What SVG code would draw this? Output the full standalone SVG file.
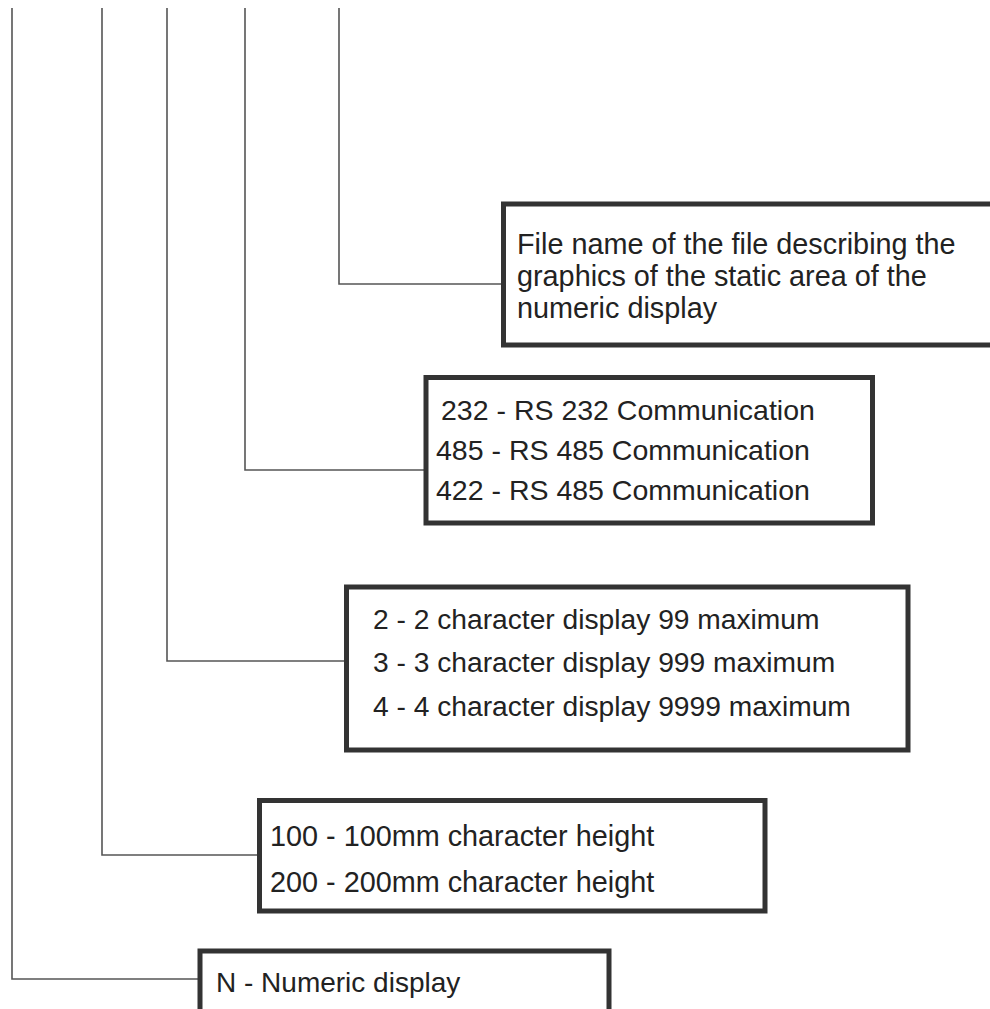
<svg xmlns="http://www.w3.org/2000/svg" width="990" height="1009" viewBox="0 0 990 1009">
<style>
.box{fill:#fff;stroke:#333;stroke-width:5}
.conn{fill:none;stroke:#555;stroke-width:1.6}
text{font-family:"Liberation Sans",Arial,sans-serif;font-size:28.5px;fill:#222}
.t1{font-size:28.8px}
.t3{font-size:28.2px}
.t4{font-size:28.8px}
.t5{font-size:28px}
</style>
<rect width="990" height="1009" fill="#fff"/>
<g id="connectors">
<polyline class="conn" points="12,8 12,979 200,979"/>
<polyline class="conn" points="102,8 102,855 259,855"/>
<polyline class="conn" points="167,8 167,661 346,661"/>
<polyline class="conn" points="245,8 245,470 426,470"/>
<polyline class="conn" points="339,8 339,284 503,284"/>
</g>
<g id="node-file">
<rect class="box" x="503.5" y="204" width="500" height="141"/>
<text class="t1" x="517" y="254">File name of the file describing the</text>
<text class="t1" x="517" y="286">graphics of the static area of the</text>
<text class="t1" x="517" y="318">numeric display</text>
</g>
<g id="node-comm">
<rect class="box" x="426" y="377.5" width="446.5" height="145.5"/>
<text x="441" y="420">232 - RS 232 Communication</text>
<text x="436" y="460">485 - RS 485 Communication</text>
<text x="436" y="500">422 - RS 485 Communication</text>
</g>
<g id="node-chars">
<rect class="box" x="346.5" y="587" width="561.5" height="163"/>
<text class="t3" x="373" y="629">2 - 2 character display 99 maximum</text>
<text class="t3" x="373" y="672">3 - 3 character display 999 maximum</text>
<text class="t3" x="373" y="716">4 - 4 character display 9999 maximum</text>
</g>
<g id="node-height">
<rect class="box" x="259.5" y="800.5" width="505.5" height="110.5"/>
<text class="t4" x="270" y="846">100 - 100mm character height</text>
<text class="t4" x="270" y="892">200 - 200mm character height</text>
</g>
<g id="node-numeric">
<rect class="box" x="200" y="951" width="409" height="80"/>
<text class="t5" x="216" y="992">N - Numeric display</text>
</g>
</svg>
